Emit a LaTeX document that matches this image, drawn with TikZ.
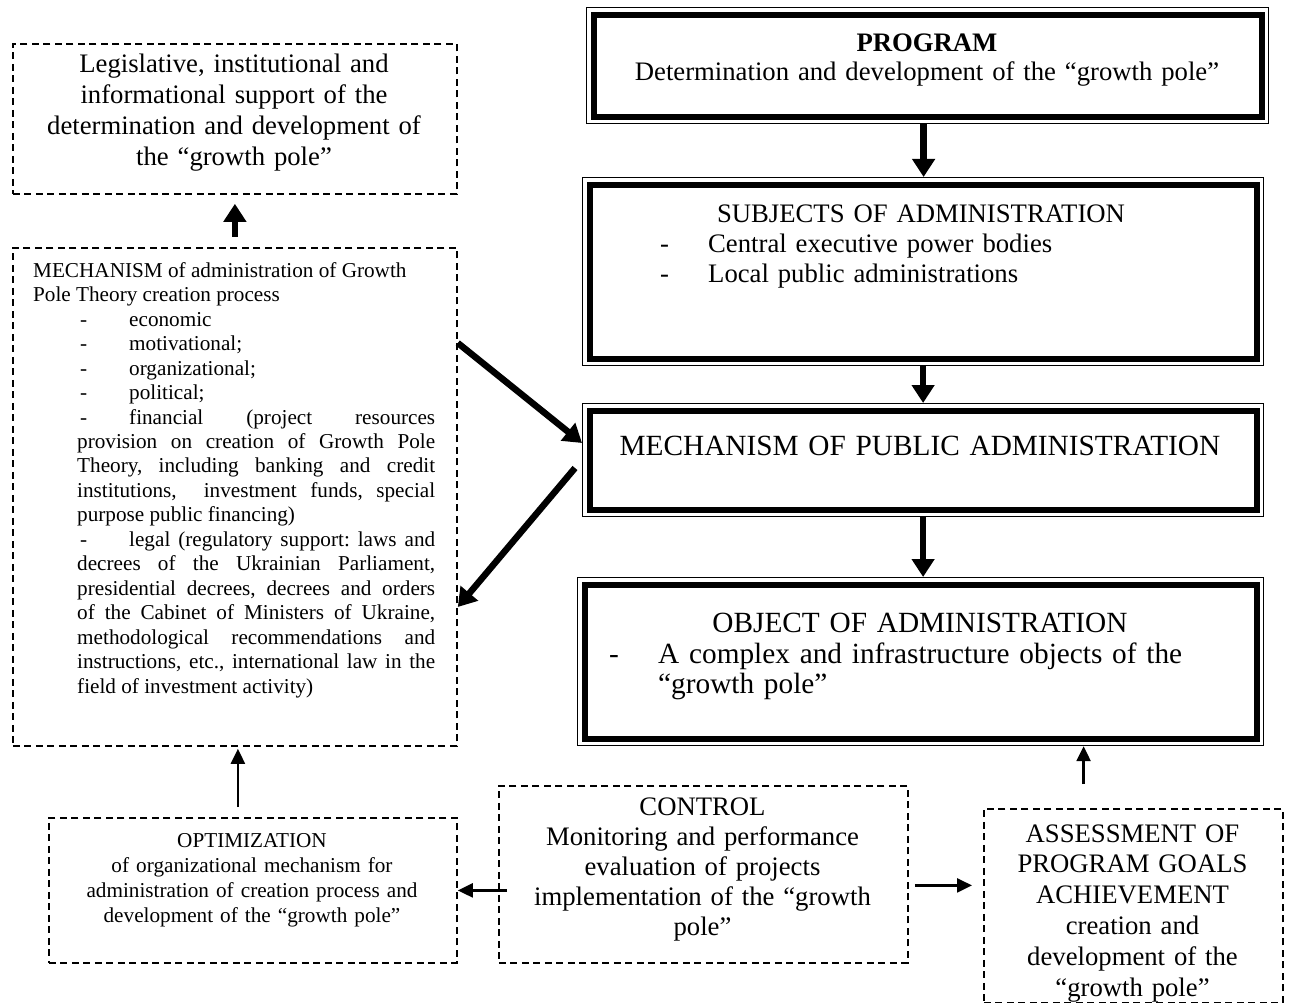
\documentclass[tikz,border=0pt]{standalone}
\usepackage{fontspec}
\setmainfont{Liberation Serif}
\usetikzlibrary{arrows.meta,calc}
\newcommand\fsA{\fontsize{26.7pt}{30.8pt}\selectfont}
\newcommand\fsP{\fontsize{26.7pt}{29pt}\selectfont}
\newcommand\fsS{\fontsize{26.7pt}{30pt}\selectfont}
\newcommand\fsB{\fontsize{21.2pt}{24.5pt}\selectfont}
\newcommand\fsBo{\fontsize{21.2pt}{25pt}\selectfont}
\newcommand\fsC{\fontsize{29.3pt}{30.5pt}\selectfont}
\newcommand\mitem{\par\leftskip=44pt\rightskip=0pt\parfillskip=0pt plus 1fil\noindent\hspace*{3pt}\makebox[49pt][l]{-}}
\tikzset{
  dbox/.style={draw, line width=1.8pt, dash pattern=on 7pt off 4.5pt, inner sep=0pt, anchor=north west},
  dframe/.style={draw, line width=1.2pt, inner sep=0pt, anchor=north west,
    path picture={\draw[line width=6pt] ([shift={(7pt,-7pt)}]path picture bounding box.north west) rectangle ([shift={(-7pt,7pt)}]path picture bounding box.south east);}},
  txt/.style={inner sep=0pt, align=center, anchor=base},
  bigarrow/.style={line width=6.5pt, -{Triangle[width=22pt,length=18pt]}},
  thinarrow/.style={line width=2.4pt, -{Triangle[width=14pt,length=15pt]}},
}
\begin{document}
\begin{tikzpicture}[x=1pt,y=-1pt]
\useasboundingbox (0,0) rectangle (1291,1003);
\clip (0,0) rectangle (1291,1003);
\fill[white] (0,0) rectangle (1291,1003);

% left column
\node[dbox, minimum width=444pt, minimum height=150pt] (leg) at (12,43) {};
\node[txt, text width=444pt, font=\fsA] (legt) at (234,73)
  {Legislative, institutional and\\ informational support of the\\ determination and development of\\ the “growth pole”};

\node[dbox, minimum width=444pt, minimum height=498pt] (mechL) at (12,247) {};
\node[inner sep=0pt, text width=402pt, align=justify, anchor=base west, font=\fsB] (mechLt) at (33,277)
  {\frenchspacing\tolerance=10000 \hbadness=10000 \hyphenpenalty=10000
   MECHANISM of administration of Growth\\
   Pole Theory creation process
   \mitem economic
   \mitem motivational;
   \mitem organizational;
   \mitem political;
   \mitem financial (project resources\linebreak
     provision on creation of Growth Pole\linebreak
     Theory, including banking and credit\linebreak
     institutions,\ \ investment funds, special\linebreak
     purpose public financing)
   \mitem legal (regulatory support: laws and\linebreak
     decrees of the Ukrainian Parliament,\linebreak
     presidential decrees, decrees and orders\linebreak
     of the Cabinet of Ministers of Ukraine,\linebreak
     methodological recommendations and\linebreak
     instructions, etc., international law in the\linebreak
     field of investment activity)\par};

\node[dbox, minimum width=408pt, minimum height=145pt] (opt) at (48,817) {};
\node[txt, text width=408pt, font=\fsBo] (optt) at (252,847)
  {OPTIMIZATION\\ of organizational mechanism for\\ administration of creation process and\\ development of the “growth pole”};

\node[dbox, minimum width=409pt, minimum height=177pt] (ctrl) at (498,785) {};
\node[txt, text width=409pt, font=\fsS] (ctrlt) at (702.5,815)
  {CONTROL\\ Monitoring and performance\\ evaluation of projects\\ implementation of the “growth\\ pole”};

\node[dbox, minimum width=299pt, minimum height=194pt] (assess) at (983,808) {};
\node[txt, text width=299pt, font=\fsA] (assesst) at (1132.5,842)
  {ASSESSMENT OF\\ PROGRAM GOALS\\ ACHIEVEMENT\\ creation and\\ development of the\\ “growth pole”};

% right column
\node[dframe, minimum width=682pt, minimum height=116pt] (prog) at (586,7) {};
\node[txt, text width=682pt, font=\fsP] (progt) at (927,52)
  {\textbf{PROGRAM}\\ Determination and development of the “growth pole”};

\node[dframe, minimum width=681pt, minimum height=188pt] (subj) at (582,177) {};
\node[txt, text width=681pt, font=\fsS] (subjt) at (921,223) {SUBJECTS OF ADMINISTRATION};
\node[inner sep=0pt, text width=560pt, align=left, anchor=base west, font=\fsS] (subjl) at (660,253)
  {\makebox[48pt][l]{-}Central executive power bodies\\ \makebox[48pt][l]{-}Local public administrations};

\node[dframe, minimum width=681pt, minimum height=113pt] (mpub) at (582,403) {};
\node[txt, text width=681pt, font=\fsC] (mpubt) at (920,455) {MECHANISM OF PUBLIC ADMINISTRATION};

\node[dframe, minimum width=686pt, minimum height=168pt] (obj) at (577,577) {};
\node[txt, text width=686pt, font=\fsC] (objt) at (920,632) {OBJECT OF ADMINISTRATION};
\node[inner sep=0pt, text width=620pt, align=left, anchor=base west, font=\fsC] (objl) at (609,663)
  {\makebox[49pt][l]{-}A complex and infrastructure objects of the\\ \hspace*{49pt}“growth pole”};

% connectors
\draw[bigarrow] ($(prog.south)+(-4,0)$) -- ($(prog.south |- subj.north)+(-4,0)$);
\draw[bigarrow] (subj.south) -- (mpub.north);
\draw[bigarrow] (mpub.south) -- (mpub.south |- obj.north);
\draw[bigarrow] ([yshift=10pt]mechL.north) -- ([yshift=-9pt]leg.south);
\draw[bigarrow] ([yshift=-96pt]mechL.north east) -- ([yshift=-40pt]mpub.north west);
\draw[bigarrow] ([xshift=-7pt,yshift=-65pt]mpub.north west) -- ([yshift=-360pt]mechL.north east);

\draw[thinarrow] ([xshift=-15pt,yshift=10pt]opt.north) -- ([xshift=3pt,yshift=-2pt]mechL.south);
\draw[thinarrow] ($(ctrl.west |- opt.east)+(9,0)$) -- (opt.east);
\draw[thinarrow] ($(ctrl.east)+(6,11)$) -- ($(assess.west |- ctrl.east)+(-11,11)$);
\draw[thinarrow] ($(obj.south)+(163,38)$) -- ($(obj.south)+(163,0)$);
\end{tikzpicture}
\end{document}
